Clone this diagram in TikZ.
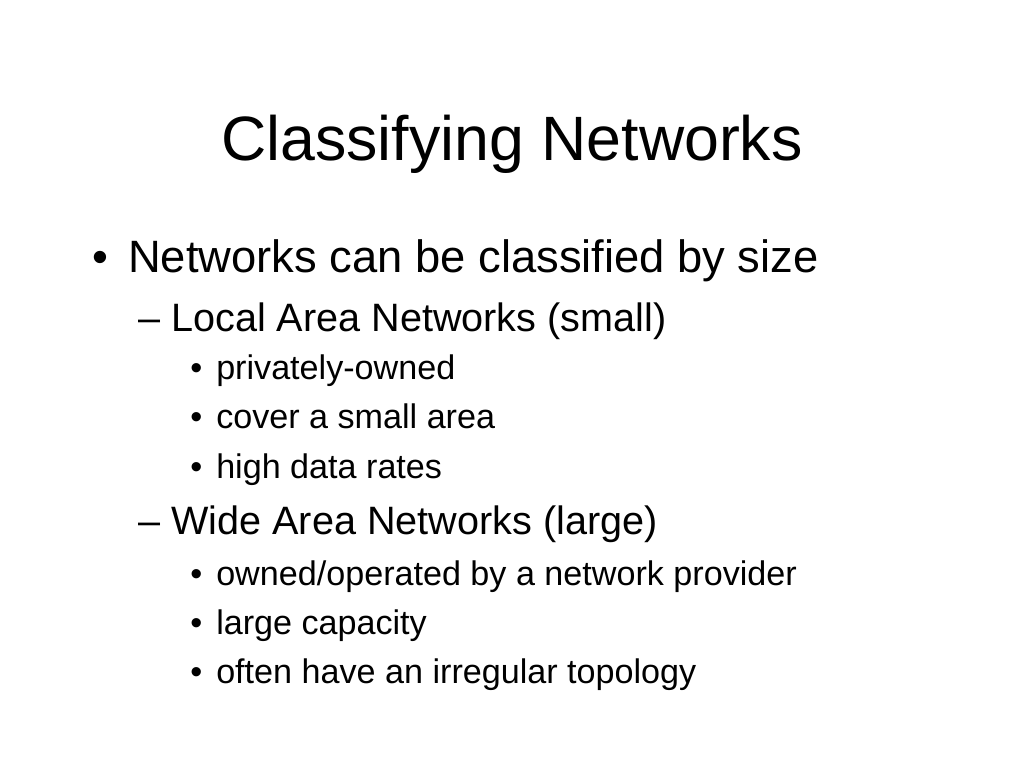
\documentclass[tikz,border=0pt]{standalone}
\usepackage{fontspec}
\setmainfont{Liberation Sans}

\tikzset{
  titletext/.style={anchor=base, inner sep=0pt, font=\fontsize{47}{50}\selectfont},
  lvlone/.style={anchor=base west, inner sep=0pt, font=\fontsize{34}{38}\selectfont},
  lvltwo/.style={anchor=base west, inner sep=0pt, font=\fontsize{29.7}{34}\selectfont},
  lvlthree/.style={anchor=base west, inner sep=0pt, font=\fontsize{25.6}{29}\selectfont}
}

\begin{document}
\begin{tikzpicture}[x=0.75pt,y=0.75pt,yscale=-1,xscale=1]
%set diagram left start at 0, and has size of 1024 x 768
\useasboundingbox (0,0) rectangle (1024,768);

% Title
\node [titletext] (title) at (512,160) {Classifying Networks};

% Level one
\node [lvlone] (b1) at (92,272) {•};
\node [lvlone] (size) at (128,272) {Networks can be classified by size};

% Level two: LAN
\node [lvltwo] (d1) at (138,331) {–};
\node [lvltwo] (lan) at (171,331) {Local Area Networks (small)};

% Level three: LAN items
\node [lvlthree] (b2) at (190,379) {•};
\node [lvlthree] (priv) at (216,379) {privately-owned};
\node [lvlthree] (b3) at (190,428) {•};
\node [lvlthree] (cover) at (216,428) {cover a small area};
\node [lvlthree] (b4) at (190,478) {•};
\node [lvlthree] (rates) at (216,478) {high data rates};

% Level two: WAN
\node [lvltwo] (d2) at (138,534) {–};
\node [lvltwo] (wan) at (171,534) {Wide Area Networks (large)};

% Level three: WAN items
\node [lvlthree] (b5) at (190,585) {•};
\node [lvlthree] (owned) at (216,585) {owned/operated by a network provider};
\node [lvlthree] (b6) at (190,634) {•};
\node [lvlthree] (capac) at (216,634) {large capacity};
\node [lvlthree] (b7) at (190,683) {•};
\node [lvlthree] (topo) at (216,683) {often have an irregular topology};

\end{tikzpicture}
\end{document}
